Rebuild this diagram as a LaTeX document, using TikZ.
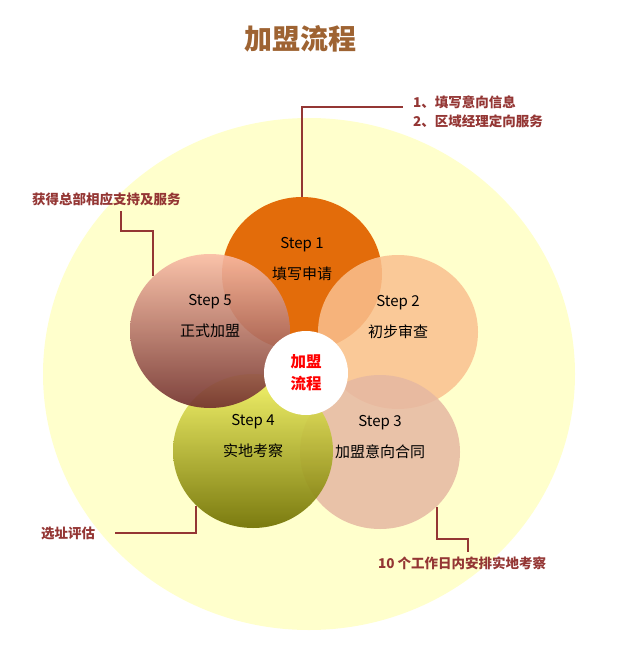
\documentclass[tikz,border=0pt]{standalone}
\usepackage{fontspec}
\setmainfont{Noto Sans CJK SC}
\usetikzlibrary{shapes.geometric, calc}
\definecolor{titlebrown}{RGB}{158,99,50}
\definecolor{calloutred}{RGB}{148,54,52}
\definecolor{bgyellow}{RGB}{255,255,204}
\definecolor{stepone}{RGB}{227,108,10}
\definecolor{steptwo}{RGB}{250,192,143}
\definecolor{stepthree}{RGB}{230,184,162}
\tikzstyle{stepcirc} = [ellipse, minimum width=160pt, minimum height=154pt, inner sep=0pt]
\tikzstyle{steptext} = [align=center, font=\fontsize{15}{31}\selectfont]
\tikzstyle{callline} = [draw=calloutred, line width=2pt]
\tikzstyle{calltext} = [anchor=west, inner sep=0pt, text=calloutred, font=\fontsize{13.5}{19}\selectfont\bfseries]

\begin{document}
\begin{tikzpicture}[x=1pt, y=-1pt]
        \useasboundingbox (0,0) rectangle (616,650);

        % Background disc
        \fill[bgyellow] (309,374) ellipse [x radius=266pt, y radius=256pt];

        % Title
        \node at (300,39) [text=titlebrown, font=\fontsize{28}{30}\selectfont\bfseries] (title) {加盟流程};

        % Step circles
        \node at (302,274) [stepcirc, fill=stepone] (s1) {};
        \node at (398,332) [stepcirc, fill=steptwo, fill opacity=0.85] (s2) {};
        \node at (380,452) [stepcirc, fill=stepthree, fill opacity=0.85] (s3) {};
        \node at (253,451) [stepcirc, top color={rgb,255:red,244;green,244;blue,100}, bottom color={rgb,255:red,112;green,112;blue,0}, fill opacity=0.92] (s4) {};
        \node at (210,331) [stepcirc, top color={rgb,255:red,250;green,188;blue,166}, bottom color={rgb,255:red,112;green,46;blue,45}, fill opacity=0.9] (s5) {};

        % Step labels
        \node at ([yshift=15pt]s1.center) [steptext] (t1) {Step 1\\填写申请};
        \node at ([yshift=15pt]s2.center) [steptext] (t2) {Step 2\\初步审查};
        \node at ([yshift=15pt]s3.center) [steptext] (t3) {Step 3\\加盟意向合同};
        \node at ([yshift=15pt]s4.center) [steptext] (t4) {Step 4\\实地考察};
        \node at ([yshift=15pt]s5.center) [steptext] (t5) {Step 5\\正式加盟};

        % Centre
        \node at (306,373) [circle, fill=white, minimum size=84pt, inner sep=0pt, text=red, align=center, font=\fontsize{15.5}{22}\selectfont\bfseries] (core) {加盟\\流程};

        % Callout texts
        \node at (413,112) [calltext, align=left] (info) {1、填写意向信息\\2、区域经理定向服务};
        \node at (32,199) [calltext] (supp) {获得总部相应支持及服务};
        \node at (41,533) [calltext] (site) {选址评估};
        \node at (378,563) [calltext] (visit) {10 个工作日内安排实地考察};

        % Callout lines
        \draw[callline] (s1.north) |- ([xshift=-10pt,yshift=5pt]info.west);
        \draw[callline] (s5.136) -- ++(0,-45) -| ([xshift=15pt,yshift=-5pt]supp.south);
        \draw[callline] (s4.224) |- ([xshift=20pt]site.east);
        \draw[callline] (s3.316) -- ++(0,32) -| ([xshift=6pt,yshift=4pt]visit.north);

    \end{tikzpicture}
\end{document}
